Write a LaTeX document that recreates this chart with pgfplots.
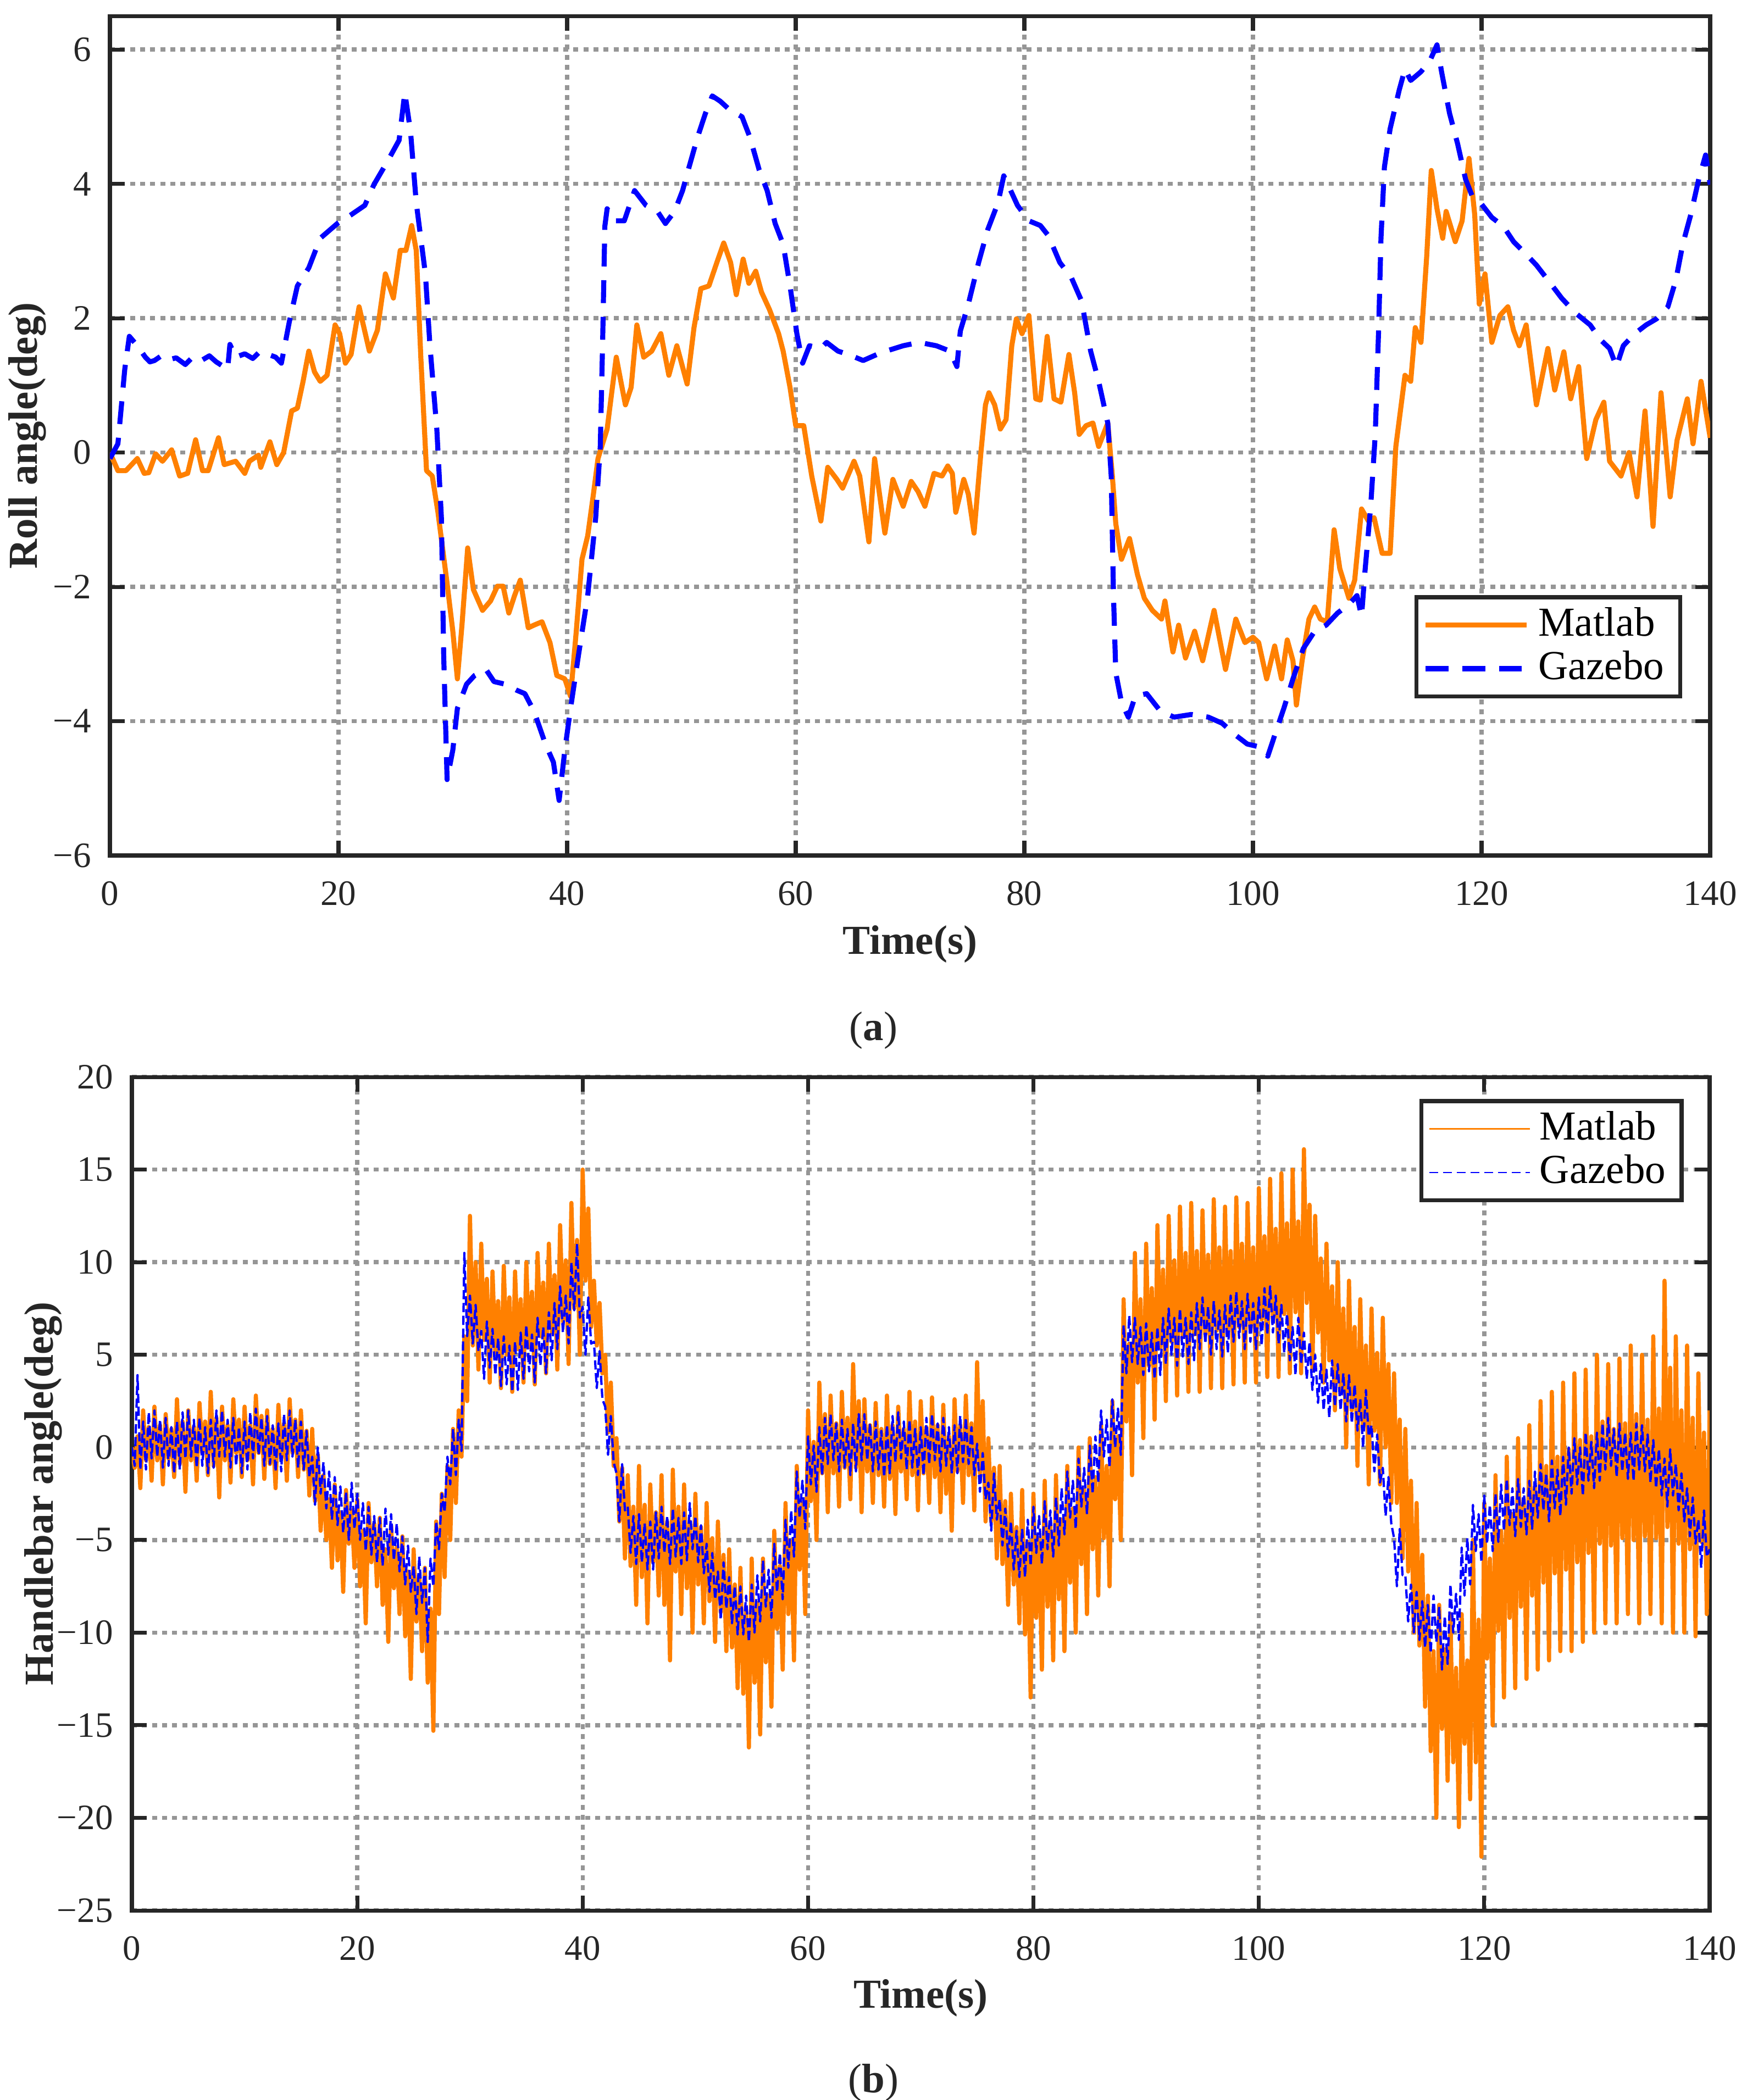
\documentclass[border=0pt]{standalone}
\usepackage{fontspec}
\setmainfont{Liberation Serif}
\usepackage{pgfplots}
\pgfplotsset{compat=1.18}
\definecolor{mlorange}{RGB}{255,128,0}
\definecolor{gridgray}{RGB}{150,150,150}
\definecolor{axdark}{RGB}{38,38,38}
\pgfplotsset{
  myaxis/.style={
    scale only axis,
    xmin=0, xmax=140,
    xtick={0,20,40,60,80,100,120,140},
    xticklabels={0,20,40,60,80,100,120,140},
    tick align=inside,
    tick pos=both,
    major tick length=3.2pt,
    axis line style={line width=0.85pt, axdark},
    every tick/.style={line width=0.85pt, axdark},
    grid=major,
    major grid style={line width=0.9pt, gridgray, dash pattern=on 1.1pt off 1.1pt},
    tick label style={font=\fontsize{7.8}{9}\selectfont, text=axdark},
    xticklabel style={anchor=base, yshift=-10.9pt},
    yticklabel style={anchor=east, xshift=-0.6pt},
    label style={font=\fontsize{9}{10.5}\selectfont\bfseries, text=axdark},
    legend style={font=\fontsize{9}{10.5}\selectfont, draw=axdark, line width=0.9pt, inner xsep=1.5pt, inner ysep=0.6pt, row sep=-1.4pt, nodes={inner ysep=1.6pt}},
    legend cell align=left,
    legend image code/.code={\draw[##1] (0pt,0pt) -- (22pt,0pt);},
    every axis plot/.append style={line join=round},
  }
}
\begin{document}
\begin{tikzpicture}
\useasboundingbox (0,0) rectangle (381.48pt,-458.64pt);
% ---------------- (a) ----------------
\begin{axis}[myaxis,
  at={(24pt,-186.84pt)}, anchor=south west,
  width=349.44pt, height=183.36pt,
  ymin=-6, ymax=6.5,
  ytick={-6,-4,-2,0,2,4,6},
  yticklabels={−6,−4,−2,0,2,4,6},
  xlabel={Time(s)},
  ylabel={Roll angle(deg)},
  xlabel style={at={(axis description cs:0.5,-0.1058)}, anchor=center},
  ylabel style={at={(axis description cs:-0.0515,0.5)}, anchor=center},
  legend style={at={(axis description cs:0.9825,0.187)}, anchor=south east},
]
\addplot[mlorange, line width=1.1pt] coordinates {
(0,0.0)(0.7,-0.27)(1.4,-0.27)(2.4,-0.09)(3.0,-0.31)(3.4,-0.3)(4.0,-0.02)(4.6,-0.13)(5.4,0.04)(6.1,-0.35)(6.8,-0.31)(7.5,0.19)(8.1,-0.27)(8.6,-0.27)(9.5,0.22)(10.0,-0.18)(11.0,-0.13)(11.8,-0.31)(12.2,-0.13)(13.0,-0.04)(13.2,-0.22)(14.0,0.16)(14.6,-0.18)(15.2,0)(15.9,0.62)(16.4,0.66)(16.9,1.06)(17.4,1.51)(17.9,1.2)(18.4,1.06)(19.0,1.15)(19.7,1.9)(20.1,1.77)(20.6,1.33)(21.1,1.46)(21.8,2.17)(22.7,1.51)(23.4,1.82)(24.1,2.66)(24.8,2.3)(25.4,3.01)(25.9,3.01)(26.4,3.38)(26.8,3.01)(27.2,1.42)(27.7,-0.27)(28.2,-0.35)(28.7,-0.89)(29.5,-1.95)(30.0,-2.66)(30.4,-3.37)(30.8,-2.57)(31.3,-1.42)(31.8,-2.04)(32.6,-2.35)(33.3,-2.21)(33.9,-1.99)(34.4,-1.99)(34.9,-2.39)(35.4,-2.13)(35.9,-1.9)(36.6,-2.61)(37.1,-2.57)(37.8,-2.52)(38.5,-2.83)(39.1,-3.32)(39.8,-3.37)(40.3,-3.63)(40.8,-2.66)(41.3,-1.59)(41.8,-1.24)(42.3,-0.62)(42.7,-0.09)(43.5,0.35)(43.9,0.89)(44.3,1.42)(44.7,1.06)(45.1,0.71)(45.6,0.97)(46.1,1.9)(46.7,1.42)(47.4,1.51)(48.2,1.77)(48.9,1.15)(49.6,1.59)(50.5,1.02)(51.1,1.86)(51.7,2.44)(52.4,2.48)(53.1,2.83)(53.7,3.12)(54.3,2.83)(54.8,2.35)(55.4,2.88)(55.9,2.52)(56.5,2.7)(57.0,2.39)(57.7,2.13)(58.5,1.77)(58.9,1.51)(59.5,0.97)(60.0,0.4)(60.7,0.4)(61.4,-0.35)(62.2,-1.02)(62.8,-0.22)(63.6,-0.4)(64.1,-0.53)(65.1,-0.13)(65.6,-0.35)(66.4,-1.33)(66.9,-0.09)(67.8,-1.2)(68.5,-0.4)(69.4,-0.8)(70.1,-0.43)(70.7,-0.58)(71.3,-0.8)(72.1,-0.31)(72.8,-0.35)(73.3,-0.2)(73.7,-0.31)(74.0,-0.89)(74.7,-0.4)(75.1,-0.62)(75.6,-1.2)(76.2,0)(76.6,0.71)(76.9,0.89)(77.4,0.71)(77.9,0.35)(78.4,0.49)(78.9,1.59)(79.3,1.99)(79.8,1.77)(80.4,2.04)(81.0,0.8)(81.4,0.78)(82.0,1.73)(82.6,0.8)(83.2,0.75)(83.9,1.46)(84.4,0.89)(84.8,0.27)(85.4,0.4)(86.0,0.44)(86.5,0.09)(87.3,0.44)(87.7,-0.35)(88.0,-1.06)(88.5,-1.59)(89.2,-1.28)(89.9,-1.82)(90.5,-2.17)(91.2,-2.35)(92.0,-2.48)(92.3,-2.21)(93.0,-2.97)(93.5,-2.57)(94.1,-3.06)(94.9,-2.66)(95.6,-3.1)(96.6,-2.35)(97.6,-3.23)(98.5,-2.48)(99.3,-2.83)(100.0,-2.75)(100.5,-2.83)(101.2,-3.37)(101.9,-2.88)(102.5,-3.37)(103.0,-2.79)(103.5,-3.1)(103.8,-3.76)(104.3,-3.1)(104.9,-2.48)(105.4,-2.3)(105.9,-2.48)(106.5,-2.52)(107.1,-1.15)(107.6,-1.73)(108.4,-2.17)(108.9,-1.9)(109.5,-0.84)(110.1,-1.02)(110.6,-0.97)(111.3,-1.5)(112.0,-1.5)(112.5,0.09)(113.3,1.15)(113.8,1.06)(114.2,1.86)(114.7,1.64)(115.2,2.92)(115.6,4.2)(116.1,3.63)(116.6,3.19)(116.9,3.59)(117.7,3.14)(118.3,3.45)(118.9,4.38)(119.4,3.54)(119.8,2.21)(120.3,2.66)(120.9,1.64)(121.6,2.04)(122.3,2.17)(122.8,1.82)(123.3,1.59)(123.9,1.9)(124.8,0.71)(125.8,1.55)(126.4,0.93)(127.2,1.5)(127.8,0.8)(128.5,1.28)(129.2,-0.09)(130.0,0.49)(130.7,0.75)(131.2,-0.13)(132.2,-0.35)(132.9,0)(133.6,-0.66)(134.3,0.62)(135.0,-1.1)(135.7,0.89)(136.5,-0.66)(137.1,0.18)(138.0,0.8)(138.5,0.13)(139.2,1.06)(140.0,0.22)
};
\addlegendentry{Matlab}
\addplot[blue, line width=1.1pt, dash pattern=on 5pt off 3pt] coordinates {
(0,-0.09)(0.7,0.13)(1.3,1.24)(1.7,1.73)(2.4,1.59)(3.1,1.42)(3.5,1.35)(3.9,1.37)(4.5,1.44)(5.1,1.38)(5.8,1.41)(6.6,1.31)(7.3,1.43)(8.1,1.38)(8.7,1.44)(9.3,1.35)(10.3,1.24)(10.5,1.61)(11.0,1.42)(11.8,1.47)(12.5,1.40)(13.1,1.50)(13.7,1.47)(14.5,1.42)(15.0,1.33)(15.7,1.95)(16.4,2.48)(17.4,2.75)(18.4,3.19)(19.9,3.41)(21.1,3.54)(22.3,3.68)(23.1,3.99)(24.3,4.34)(25.3,4.65)(25.8,5.36)(26.3,4.78)(26.8,3.72)(27.6,2.66)(28.0,1.59)(28.6,0.35)(29.0,-0.97)(29.2,-3.01)(29.5,-4.87)(30.0,-4.43)(30.4,-3.81)(31.2,-3.45)(31.9,-3.32)(32.9,-3.23)(33.6,-3.41)(34.6,-3.45)(35.6,-3.54)(36.3,-3.59)(37.1,-3.85)(38.1,-4.34)(38.8,-4.61)(39.3,-5.18)(39.8,-4.43)(40.3,-3.81)(41.0,-3.01)(41.8,-2.13)(42.5,-0.97)(42.9,0.09)(43.1,1.59)(43.3,3.37)(43.5,3.63)(44.2,3.45)(45.0,3.45)(45.9,3.9)(46.9,3.68)(47.9,3.59)(48.6,3.41)(49.4,3.59)(50.1,3.9)(50.6,4.21)(51.4,4.69)(52.1,5.05)(52.7,5.31)(53.4,5.23)(54.3,5.09)(55.3,5.0)(56.0,4.69)(56.8,4.21)(57.5,3.9)(58.2,3.41)(58.9,3.1)(59.5,2.48)(60.1,1.77)(60.6,1.33)(61.2,1.59)(62.2,1.55)(62.7,1.64)(63.7,1.51)(64.6,1.46)(65.9,1.37)(67.1,1.46)(67.9,1.51)(69.4,1.59)(70.8,1.64)(72.3,1.59)(73.5,1.51)(74.1,1.28)(74.4,1.81)(75.1,2.21)(76.0,2.83)(76.8,3.32)(77.7,3.72)(78.2,4.12)(78.7,3.94)(79.4,3.68)(80.4,3.45)(81.4,3.38)(82.1,3.23)(83.1,2.83)(84.1,2.61)(85.0,2.26)(85.8,1.51)(86.5,1.06)(87.3,0.44)(87.6,-0.35)(87.8,-2.13)(88.0,-3.28)(88.5,-3.72)(89.1,-3.94)(89.7,-3.63)(90.7,-3.59)(91.9,-3.85)(93.1,-3.94)(94.6,-3.9)(96.1,-3.94)(97.3,-4.03)(98.5,-4.21)(99.5,-4.34)(100.5,-4.38)(101.3,-4.52)(102.0,-4.16)(102.7,-3.81)(103.5,-3.37)(104.4,-2.92)(105.4,-2.66)(106.4,-2.57)(107.4,-2.39)(108.4,-2.26)(109.1,-2.13)(109.5,-2.44)(109.8,-1.77)(110.3,-0.8)(110.7,0.27)(111.0,1.86)(111.2,3.19)(111.5,4.25)(112.0,4.82)(112.8,5.4)(113.3,5.71)(113.8,5.54)(114.7,5.67)(115.5,5.84)(116.1,6.07)(116.5,5.67)(117.2,5.05)(117.9,4.6)(118.6,4.07)(119.2,3.81)(119.9,3.72)(120.9,3.5)(121.9,3.37)(122.8,3.14)(123.8,2.97)(124.8,2.79)(125.8,2.57)(127.0,2.3)(128.2,2.08)(129.5,1.9)(130.4,1.68)(131.2,1.55)(131.8,1.28)(132.4,1.59)(133.4,1.77)(134.4,1.9)(135.3,1.99)(136.3,2.17)(137.0,2.57)(137.6,3.1)(138.3,3.54)(139.0,4.07)(139.6,4.43)(140,3.99)
};
\addlegendentry{Gazebo}
\end{axis}
\node[font=\fontsize{9}{10.5}\selectfont, text=axdark] at (190.74pt,-225pt) {(\textbf{a})};
% ---------------- (b) ----------------
\begin{axis}[myaxis,
  at={(28.8pt,-417.24pt)}, anchor=south west,
  width=344.52pt, height=182.04pt,
  ymin=-25, ymax=20,
  ytick={-25,-20,-15,-10,-5,0,5,10,15,20},
  yticklabels={−25,−20,−15,−10,−5,0,5,10,15,20},
  xlabel={Time(s)},
  ylabel={Handlebar angle(deg)},
  xlabel style={at={(axis description cs:0.5,-0.1049)}, anchor=center},
  ylabel style={at={(axis description cs:-0.0560,0.5)}, anchor=center},
  legend style={at={(axis description cs:0.9836,0.9736)}, anchor=north east},
]
\addplot[mlorange, line width=0.9pt, legend image post style={line width=0.3pt}] table[row sep=\\, x expr=\coordindex*0.25, y=y] {y\\
0.0\\-1.1\\0.6\\-2.2\\ 2.0\\-0.7\\1.1\\-1.8\\ 2.2\\-0.7\\1.2\\-2.0\\ 1.8\\-0.6\\1.0\\-1.6\\ 2.6\\-0.9\\1.4\\-2.4\\
2.0\\-0.7\\1.1\\-1.8\\ 2.4\\-0.3\\1.4\\-1.5\\ 3.0\\-1.0\\1.6\\-2.7\\ 2.2\\-0.7\\1.2\\-1.9\\ 2.6\\-0.3\\1.5\\-1.6\\
2.2\\-0.7\\1.2\\-2.0\\ 2.8\\-0.3\\1.7\\-1.7\\ 2.0\\-0.9\\1.0\\-2.2\\ 2.3\\-0.6\\1.3\\-1.8\\ 2.6\\-0.3\\1.5\\-1.6\\
2.0\\-1.2\\0.9\\-2.6\\ 1.0\\-2.9\\-0.4\\-4.5\\ -1.5\\-5.0\\-2.8\\-6.5\\ -2.0\\-6.1\\-3.5\\-7.8\\ -2.3\\-5.2\\-3.4\\-6.5\\
-2.8\\-7.5\\-4.5\\-9.5\\ -3.0\\-6.2\\-4.1\\-7.5\\ -3.8\\-8.5\\-5.5\\-10.5\\ -4.2\\-7.6\\-5.4\\-9.0\\ -4.8\\-10.2\\-6.7\\-12.5\\
-5.5\\-9.4\\-6.9\\-11.0\\ -6.5\\-12.7\\-8.7\\-15.3\\ -4.0\\-9.0\\-2.5\\-7.0\\ -1.0\\-5.0\\1.0\\-3.0\\ 2.0\\-0.5\\6.0\\2.5\\
12.5\\5.5\\10.0\\4.2\\ 11.0\\5.8\\9.1\\3.5\\ 9.5\\5.1\\7.9\\3.2\\ 9.8\\5.0\\8.1\\3.0\\ 9.5\\5.3\\8.0\\3.5\\
10.0\\5.4\\8.4\\3.4\\ 10.5\\6.0\\8.9\\4.0\\ 11.0\\6.2\\9.3\\4.2\\ 12.0\\6.8\\10.1\\4.5\\ 13.2\\7.5\\11.2\\5.0\\
15.0\\9.0\\12.9\\6.5\\ 9.0\\5.5\\7.8\\4.0\\ 5.0\\0.8\\3.5\\-1.0\\ 0.5\\-4.0\\-1.1\\-6.0\\ -1.5\\-6.4\\-3.2\\-8.5\\
-1.0\\-7.0\\-3.1\\-9.5\\ -2.0\\-6.2\\-3.5\\-8.0\\ -1.5\\-8.5\\-4.0\\-11.5\\ -1.2\\-6.7\\-3.2\\-9.0\\ -2.0\\-7.6\\-4.0\\-10.0\\
-2.5\\-7.4\\-4.3\\-9.5\\ -3.0\\-8.3\\-4.9\\-10.5\\ -4.0\\-8.9\\-5.8\\-11.0\\ -5.5\\-10.8\\-7.4\\-13.0\\ -6.5\\-13.3\\-8.9\\-16.2\\
-6.0\\-12.7\\-8.4\\-15.5\\ -6.0\\-11.6\\-8.0\\-14.0\\ -4.5\\-9.8\\-6.4\\-12.0\\ -3.0\\-9.0\\-5.1\\-11.5\\ -1.0\\-6.6\\-3.0\\-9.0\\
2.0\\-2.9\\0.3\\-5.0\\ 3.5\\-1.4\\1.8\\-3.5\\ 2.8\\-1.4\\1.3\\-3.2\\ 3.0\\-1.1\\1.6\\-2.8\\ 4.5\\-1.1\\2.5\\-3.5\\
2.6\\-1.3\\1.2\\-3.0\\ 2.4\\-1.5\\1.0\\-3.2\\ 2.8\\-1.7\\1.2\\-3.6\\ 2.2\\-1.3\\1.0\\-2.8\\ 3.0\\-1.5\\1.4\\-3.4\\
2.5\\-1.4\\1.1\\-3.0\\ 2.7\\-1.6\\1.2\\-3.5\\ 2.3\\-2.5\\0.6\\-4.5\\ 2.6\\-1.3\\1.2\\-3.0\\ 2.8\\-1.5\\1.3\\-3.4\\
4.6\\-1.4\\2.5\\-4.0\\ 0.5\\-4.0\\-1.1\\-6.0\\ -1.0\\-6.3\\-2.9\\-8.5\\ -2.5\\-7.4\\-4.3\\-9.5\\ -2.3\\-10.1\\-5.1\\-13.5\\
-2.5\\-9.2\\-4.9\\-12.0\\ -1.8\\-8.6\\-4.2\\-11.5\\ -1.5\\-8.2\\-3.9\\-11.0\\ -1.0\\-7.3\\-3.3\\-10.0\\ 0.0\\-6.3\\-2.3\\-9.0\\
0.5\\-5.5\\-1.6\\-8.0\\ 1.2\\-4.9\\-1.0\\-7.5\\ 2.5\\-2.8\\0.6\\-5.0\\ 8.0\\1.4\\5.6\\-1.5\\ 10.5\\3.5\\8.0\\0.5\\
11.0\\4.4\\8.6\\1.5\\ 12.0\\5.4\\9.6\\2.5\\ 12.5\\5.7\\10.1\\2.8\\ 13.0\\6.0\\10.5\\3.0\\ 13.2\\6.1\\10.6\\3.0\\
12.8\\6.1\\10.4\\3.2\\ 13.4\\6.3\\10.8\\3.2\\ 13.0\\6.3\\10.6\\3.4\\ 13.5\\6.5\\11.0\\3.5\\ 13.2\\6.4\\10.8\\3.5\\
14.0\\6.9\\11.4\\3.8\\ 14.5\\7.0\\11.8\\3.8\\ 14.8\\7.2\\12.1\\4.0\\ 15.0\\7.3\\12.2\\4.0\\ 16.1\\7.8\\13.1\\4.2\\
12.5\\6.2\\10.2\\3.5\\ 11.0\\4.7\\8.7\\2.0\\ 10.0\\3.0\\7.5\\0.0\\ 9.0\\2.0\\6.5\\-1.0\\ 8.0\\1.0\\5.5\\-2.0\\
7.5\\0.9\\5.1\\-2.0\\ 7.0\\0.0\\4.5\\-3.0\\ 4.0\\-3.0\\1.5\\-6.0\\ 1.0\\-6.7\\-1.8\\-10.0\\ -3.0\\-10.7\\-5.8\\-14.0\\
-8.0\\-16.4\\-11.0\\-20.0\\ -8.5\\-15.2\\-10.9\\-18.0\\ -9.0\\-17.0\\-11.9\\-20.5\\ -9.0\\-16.0\\-11.5\\-19.0\\ -5.0\\-17.0\\-9.3\\-22.1\\
-3.0\\-11.4\\-6.0\\-15.0\\ -1.5\\-9.9\\-4.5\\-13.5\\ -0.5\\-9.2\\-3.6\\-13.0\\ 0.5\\-8.6\\-2.8\\-12.5\\ 1.2\\-8.0\\-2.1\\-12.0\\
2.5\\-7.3\\-1.0\\-11.5\\ 3.0\\-6.8\\-0.5\\-11.0\\ 3.5\\-6.6\\-0.1\\-11.0\\ 4.0\\-6.2\\0.4\\-10.5\\ 4.2\\-5.7\\0.6\\-10.0\\
5.0\\-5.2\\1.4\\-9.5\\ 4.5\\-5.3\\1.0\\-9.5\\ 4.8\\-4.9\\1.3\\-9.0\\ 5.5\\-5.0\\1.8\\-9.5\\ 5.0\\-4.8\\1.5\\-9.0\\
6.0\\-4.9\\2.1\\-9.5\\ 9.0\\-4.3\\4.3\\-10.0\\ 6.0\\-5.2\\2.0\\-10.0\\ 5.5\\-5.5\\1.6\\-10.2\\ 4.0\\-5.1\\0.8\\-9.0\\
2.0\\
};
\addlegendentry{Matlab}
\addplot[blue, line width=0.5pt, dash pattern=on 2pt off 0.8pt, legend image post style={line width=0.35pt, dash pattern=on 2pt off 1pt}] table[row sep=\\, x expr=\coordindex*0.25, y=y] {y\\
0.0\\-1.0\\3.9\\-1.2\\ 1.4\\-1.2\\1.9\\-0.6\\ 2.0\\-0.5\\1.5\\-1.1\\ 1.6\\-1.0\\1.1\\-1.4\\ 1.4\\-1.2\\1.9\\-0.6\\
2.0\\-0.5\\1.5\\-1.1\\ 1.6\\-1.0\\1.1\\-1.4\\ 1.5\\-1.1\\2.0\\-0.5\\ 2.0\\-0.5\\1.5\\-1.1\\ 1.6\\-1.0\\1.1\\-1.4\\
1.4\\-1.2\\1.9\\-0.6\\ 2.1\\-0.4\\1.6\\-1.0\\ 1.7\\-0.9\\1.2\\-1.3\\ 1.3\\-1.3\\1.8\\-0.7\\ 2.0\\-0.5\\1.5\\-1.1\\
1.4\\-1.2\\0.9\\-1.6\\ -0.5\\-3.1\\0.0\\-2.5\\ -0.8\\-3.3\\-1.3\\-3.9\\ -1.6\\-4.2\\-2.1\\-4.6\\ -2.4\\-5.0\\-1.9\\-4.4\\
-2.5\\-5.0\\-3.0\\-5.6\\ -3.2\\-5.8\\-3.7\\-6.2\\ -3.8\\-6.4\\-3.3\\-5.8\\ -3.6\\-6.1\\-4.1\\-6.7\\ -4.8\\-7.4\\-5.3\\-7.8\\
-6.4\\-9.0\\-5.9\\-8.4\\ -6.5\\-10.5\\-6.0\\-7.5\\ -4.0\\-5.5\\-2.5\\-3.5\\ -0.5\\-2.0\\1.0\\-1.5\\ 1.5\\-0.2\\10.5\\6.0\\
8.2\\5.6\\7.7\\5.2\\ 6.3\\3.7\\6.8\\4.3\\ 6.4\\3.9\\5.9\\3.3\\ 6.0\\3.4\\5.5\\3.0\\ 5.7\\3.1\\6.2\\3.7\\
6.6\\4.1\\6.1\\3.5\\ 7.0\\4.4\\6.5\\4.0\\ 7.3\\4.7\\7.8\\5.3\\ 8.7\\6.2\\8.2\\5.6\\ 10.0\\7.4\\11.0\\7.0\\
7.6\\5.0\\8.1\\5.6\\ 5.7\\3.2\\5.2\\2.6\\ 2.2\\-0.4\\1.7\\-0.8\\ -1.4\\-4.0\\-0.9\\-3.4\\ -3.2\\-5.7\\-3.7\\-6.3\\
-3.6\\-6.2\\-4.1\\-6.6\\ -4.0\\-6.6\\-3.5\\-6.0\\ -3.2\\-5.7\\-3.7\\-6.3\\ -3.3\\-5.9\\-3.8\\-6.3\\ -3.5\\-6.1\\-3.0\\-5.5\\
-3.7\\-6.2\\-4.2\\-6.8\\ -5.2\\-7.8\\-5.7\\-8.2\\ -6.7\\-9.3\\-6.2\\-8.7\\ -7.0\\-9.5\\-7.5\\-10.1\\ -7.5\\-10.1\\-8.0\\-10.5\\
-7.4\\-10.0\\-6.9\\-9.4\\ -6.1\\-8.6\\-6.6\\-9.2\\ -5.2\\-7.8\\-5.7\\-8.2\\ -3.9\\-6.5\\-3.4\\-5.9\\ -1.3\\-3.8\\-1.8\\-4.4\\
0.6\\-2.0\\0.1\\-2.4\\ 1.1\\-1.5\\1.6\\-0.9\\ 1.8\\-0.7\\1.3\\-1.3\\ 1.5\\-1.1\\1.0\\-1.5\\ 1.3\\-1.3\\1.8\\-0.7\\
1.8\\-0.7\\1.3\\-1.3\\ 1.4\\-1.2\\0.9\\-1.6\\ 1.2\\-1.4\\1.7\\-0.8\\ 1.9\\-0.6\\1.4\\-1.2\\ 1.5\\-1.1\\1.0\\-1.5\\
1.1\\-1.5\\1.6\\-0.9\\ 1.8\\-0.7\\1.3\\-1.3\\ 1.6\\-1.0\\1.1\\-1.4\\ 1.2\\-1.4\\1.7\\-0.8\\ 1.6\\-0.9\\1.1\\-1.5\\
0.2\\-2.4\\-0.3\\-2.8\\ -1.9\\-4.5\\-1.4\\-3.9\\ -2.8\\-5.3\\-3.3\\-5.9\\ -4.0\\-6.6\\-4.5\\-7.0\\ -4.4\\-7.0\\-3.9\\-6.4\\
-3.2\\-5.7\\-3.7\\-6.3\\ -2.9\\-5.5\\-3.4\\-5.9\\ -2.7\\-5.3\\-2.2\\-4.7\\ -1.3\\-3.8\\-1.8\\-4.4\\ -0.6\\-3.2\\-1.1\\-3.6\\
0.1\\-2.5\\0.6\\-1.9\\ 2.0\\-0.5\\1.5\\-1.1\\ 2.6\\0.0\\2.1\\-0.4\\ 6.6\\4.0\\7.1\\4.6\\ 7.0\\4.5\\6.5\\3.9\\
6.7\\4.1\\6.2\\3.7\\ 6.5\\3.9\\7.0\\4.5\\ 7.5\\5.0\\7.0\\4.4\\ 7.5\\4.9\\7.0\\4.5\\ 7.3\\4.7\\7.8\\5.3\\
8.1\\5.6\\7.6\\5.0\\ 7.9\\5.3\\7.4\\4.9\\ 7.7\\5.1\\8.2\\5.7\\ 8.4\\5.9\\7.9\\5.3\\ 8.3\\5.7\\7.8\\5.3\\
8.1\\5.5\\8.6\\6.1\\ 8.7\\6.2\\8.2\\5.6\\ 7.7\\5.1\\7.2\\4.7\\ 6.5\\3.9\\7.0\\4.5\\ 6.2\\3.7\\5.7\\3.1\\
5.0\\2.4\\4.5\\2.0\\ 4.2\\1.6\\4.7\\2.2\\ 4.5\\2.0\\4.0\\1.4\\ 3.9\\1.3\\3.4\\0.9\\ 2.6\\0.0\\3.1\\0.6\\
1.2\\-1.3\\0.7\\-1.9\\ -1.1\\-3.7\\-1.6\\-4.1\\ -4.9\\-7.5\\-4.4\\-6.9\\ -6.9\\-9.4\\-7.4\\-10.0\\ -7.8\\-10.4\\-8.3\\-10.8\\
-8.5\\-11.1\\-8.0\\-10.5\\ -8.6\\-12.0\\-9.1\\-11.7\\ -7.4\\-10.0\\-7.9\\-10.4\\ -5.4\\-8.0\\-4.9\\-7.4\\ -3.1\\-5.6\\-3.6\\-6.2\\
-2.6\\-5.2\\-3.1\\-5.6\\ -2.5\\-5.1\\-2.0\\-4.5\\ -1.7\\-4.2\\-2.2\\-4.8\\ -1.7\\-4.3\\-2.2\\-4.7\\ -1.8\\-4.4\\-1.3\\-3.8\\
-0.9\\-3.4\\-1.4\\-4.0\\ -0.7\\-3.3\\-1.2\\-3.7\\ -0.5\\-3.1\\0.0\\-2.5\\ 0.5\\-2.0\\0.0\\-2.6\\ 0.8\\-1.8\\0.3\\-2.2\\
0.8\\-1.8\\1.3\\-1.2\\ 1.6\\-1.0\\1.0\\-1.6\\ 1.3\\-1.3\\0.8\\-1.7\\ 0.8\\-1.8\\1.3\\-1.2\\ 1.2\\-1.3\\0.7\\-1.9\\
0.4\\-2.2\\-0.1\\-2.6\\ -0.6\\-3.2\\-0.1\\-2.6\\ -0.9\\-3.4\\-1.4\\-4.0\\ -2.2\\-4.8\\-2.7\\-5.2\\ -3.9\\-6.5\\-3.4\\-5.9\\
-5.5\\
};
\addlegendentry{Gazebo}
\end{axis}
\node[font=\fontsize{9}{10.5}\selectfont, text=axdark] at (190.74pt,-454.8pt) {(\textbf{b})};
\end{tikzpicture}
\end{document}
